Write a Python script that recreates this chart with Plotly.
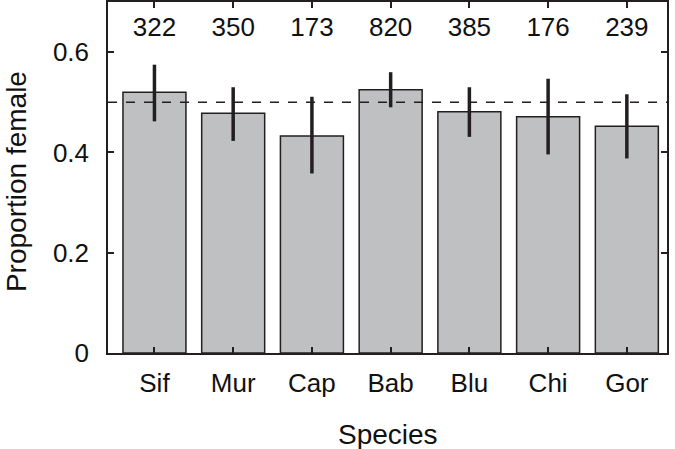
import plotly.graph_objects as go

species = ["Sif", "Mur", "Cap", "Bab", "Blu", "Chi", "Gor"]
prop_female = [0.520, 0.478, 0.433, 0.525, 0.481, 0.471, 0.452]
err_upper = [0.575, 0.530, 0.511, 0.560, 0.530, 0.547, 0.516]
err_lower = [0.462, 0.423, 0.358, 0.490, 0.431, 0.396, 0.388]
counts = [322, 350, 173, 820, 385, 176, 239]
y_ticks = [0, 0.2, 0.4, 0.6]
y_tick_labels = ["0", "0.2", "0.4", "0.6"]
reference_line = 0.5
label_y = 0.645

FONT = "Liberation Sans, Arial, Helvetica, sans-serif"
DARK = "#231f20"
TXT = "#111111"

x_idx = list(range(len(species)))

fig = go.Figure()
fig.add_trace(go.Bar(
    x=x_idx,
    y=prop_female,
    width=0.8,
    marker=dict(color="#bfc0c2", line=dict(color=DARK, width=1.5)),
    error_y=dict(
        type="data",
        symmetric=False,
        array=[u - v for u, v in zip(err_upper, prop_female)],
        arrayminus=[v - l for v, l in zip(prop_female, err_lower)],
        color=DARK,
        thickness=3.5,
        width=0,
    ),
    showlegend=False,
    hoverinfo="skip",
))

fig.add_trace(go.Scatter(
    x=x_idx,
    y=[label_y] * len(species),
    mode="text",
    text=[str(c) for c in counts],
    textfont=dict(family=FONT, size=26, color=TXT),
    showlegend=False,
    hoverinfo="skip",
))

fig.add_shape(type="line", xref="paper", yref="y", x0=0, x1=1,
              y0=reference_line, y1=reference_line,
              line=dict(color=DARK, width=1.5, dash="dash"))

fig.add_annotation(text="Species", xref="paper", yref="paper", x=0.5, y=0,
                   yshift=-81, xanchor="center", yanchor="middle", showarrow=False,
                   font=dict(family=FONT, size=28, color=TXT))
fig.add_annotation(text="Proportion female", xref="paper", yref="paper", x=0, y=0.487,
                   xshift=-92, xanchor="center", yanchor="middle", textangle=-90,
                   showarrow=False, font=dict(family=FONT, size=28, color=TXT))

fig.update_layout(
    width=675, height=449,
    margin=dict(l=108, r=8, t=2, b=96, autoexpand=False),
    plot_bgcolor="white", paper_bgcolor="white",
    font=dict(family=FONT, size=26, color=TXT),
)

fig.update_xaxes(
    range=[-0.59, 6.51],
    tickvals=x_idx, ticktext=species,
    ticks="inside", ticklen=6, tickwidth=1.5, tickcolor=DARK,
    showline=True, linecolor=DARK, linewidth=1.5, mirror="ticks",
    showgrid=False, zeroline=False, automargin=False,
    ticklabelstandoff=6,
    tickfont=dict(family=FONT, size=26, color=TXT),
)
fig.update_yaxes(
    range=[0, 0.7],
    tickvals=y_ticks, ticktext=y_tick_labels,
    ticks="inside", ticklen=6, tickwidth=1.5, tickcolor=DARK,
    showline=True, linecolor=DARK, linewidth=1.5, mirror="ticks",
    showgrid=False, zeroline=False, automargin=False,
    ticklabelstandoff=12,
    tickfont=dict(family=FONT, size=26, color=TXT),
)

fig.write_html("out.html",
               config={"displayModeBar": False},
               post_script="document.body.style.margin='0';document.body.style.padding='0';")
